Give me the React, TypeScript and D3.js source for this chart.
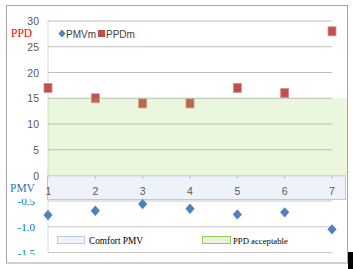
import React from "react";
import * as d3 from "d3";

const categories = [1, 2, 3, 4, 5, 6, 7];
const ppdValues = [17, 15, 14, 14, 17, 16, 28];
const pmvValues = [-0.77, -0.69, -0.56, -0.65, -0.76, -0.72, -1.05];
const ppdTicks = [0, 5, 10, 15, 20, 25, 30];
const pmvTicks = [-0.5, -1.0, -1.5];
const pmvTickLabels = ["-0.5", "-1.0", "-1.5"];
const ppdAcceptable = 15;
const comfortPmv = -0.46;

function diamondPath(hw: number, hh: number) {
  const p = d3.path();
  p.moveTo(0, -hh);
  p.lineTo(hw, 0);
  p.lineTo(0, hh);
  p.lineTo(-hw, 0);
  p.closePath();
  return p.toString();
}

export default function App() {
  const x = d3.scalePoint<number>().domain(categories).range([48, 332]);
  const yPPD = d3.scaleLinear().domain([0, 30]).range([175.5, 21]);
  const yPMV = d3.scaleLinear().domain([-1.5, 0]).range([252.5, 175.3]);
  const sans = "'Liberation Sans', Arial, sans-serif";
  const serif = "'Liberation Serif', 'Times New Roman', serif";
  const diamond = diamondPath(4.6, 5.2);
  const legendDiamond = diamondPath(3.5, 4);

  return (
    <svg
      width={353}
      height={269}
      style={{ position: "absolute", left: 0, top: 0 }}
    >
      <rect x={0} y={0} width={353} height={269} fill="#fff" />
      <rect x={6.5} y={5.5} width={341} height={257.5} fill="#fff" stroke="#A6A6A6" />
      <rect x={348} y={252} width={5} height={17} fill="#000" />

      {/* y axis line */}
      <line x1={48} x2={48} y1={yPPD(30)} y2={yPMV(-1.5)} stroke="#D9D9D9" />

      {/* PPD gridlines */}
      {ppdTicks.filter((t) => t > 0).map((t) => (
        <line key={t} x1={48} x2={332} y1={yPPD(t)} y2={yPPD(t)} stroke="#BFBFBF" strokeWidth={1} />
      ))}
      {/* PMV gridlines */}
      {pmvTicks.map((t) => (
        <line key={t} x1={48} x2={332} y1={yPMV(t)} y2={yPMV(t)} stroke="#C8C8C8" strokeWidth={1} />
      ))}

      {/* PPD markers */}
      {ppdValues.map((v, i) => (
        <rect
          key={i}
          x={(x(categories[i]) as number) - 4}
          y={yPPD(v) - 4.5}
          width={8}
          height={9}
          fill="#C0504D"
          stroke="#D9908E"
          strokeWidth={0.8}
        />
      ))}

      {/* PPD acceptable band */}
      <rect
        x={48}
        y={yPPD(ppdAcceptable)}
        width={299}
        height={yPPD(0) - yPPD(ppdAcceptable)}
        fill="#92D050"
        fillOpacity={0.19}
      />
      {/* Comfort PMV band */}
      <rect
        x={47.5}
        y={yPMV(0) + 0.5}
        width={298}
        height={yPMV(comfortPmv) - yPMV(0)}
        fill="#EEF3FA"
        stroke="#B7C9E6"
        strokeWidth={1}
      />

      {/* x ticks and labels */}
      {categories.map((c) => (
        <g key={c}>
          <line x1={x(c)} x2={x(c)} y1={176} y2={179} stroke="#BFBFBF" />
          <text
            x={(x(c) as number) + (c === 1 ? 0.5 : 0)}
            y={195}
            textAnchor="middle"
            fontFamily={sans}
            fontSize={10.5}
            fill="#595959"
          >
            {c}
          </text>
        </g>
      ))}

      {/* PMV markers */}
      {pmvValues.map((v, i) => (
        <path
          key={i}
          d={diamond}
          transform={`translate(${x(categories[i])},${yPMV(v)})`}
          fill="#4F81BD"
        />
      ))}

      {/* PPD axis labels */}
      {ppdTicks.map((t) => (
        <text
          key={t}
          x={39}
          y={yPPD(t) + 4}
          textAnchor="end"
          fontFamily={sans}
          fontSize={10.5}
          fill="#595959"
        >
          {t}
        </text>
      ))}

      {/* PMV axis labels */}
      <defs>
        <clipPath id="pmvclip">
          <rect x={0} y={199} width={46} height={56} />
        </clipPath>
      </defs>
      <g clipPath="url(#pmvclip)">
        {pmvTicks.map((t, i) => (
          <text
            key={t}
            x={35}
            y={yPMV(t) + 4}
            textAnchor="end"
            fontFamily={serif}
            fontSize={11}
            fill="#0070C0"
          >
            {pmvTickLabels[i]}
          </text>
        ))}
      </g>

      <text x={11} y={37} fontFamily={serif} fontSize={11.5} fill="#FF0000">
        PPD
      </text>
      <text x={10} y={192} fontFamily={serif} fontSize={11.5} fill="#2E75B6">
        PMV
      </text>

      {/* top legend */}
      <path d={legendDiamond} transform="translate(62,33.5)" fill="#4F81BD" />
      <text x={66} y={37.5} fontFamily={sans} fontSize={10} fill="#404040">
        PMVm
      </text>
      <rect x={98} y={30} width={7} height={7} fill="#C0504D" />
      <text x={106} y={37.5} fontFamily={sans} fontSize={10} fill="#404040">
        PPDm
      </text>

      {/* bottom legend */}
      <rect x={57.5} y={236.5} width={27} height={7} fill="#EEF3FA" stroke="#B7C9E6" />
      <text x={89} y={244} fontFamily={serif} fontSize={9.3} fill="#000">
        Comfort PMV
      </text>
      <rect x={202.5} y={236.5} width={28} height={7} fill="#E9F4DD" stroke="#92D050" />
      <text x={233} y={243.5} fontFamily={serif} fontSize={8.7} fill="#000">
        PPD acceptable
      </text>
    </svg>
  );
}
